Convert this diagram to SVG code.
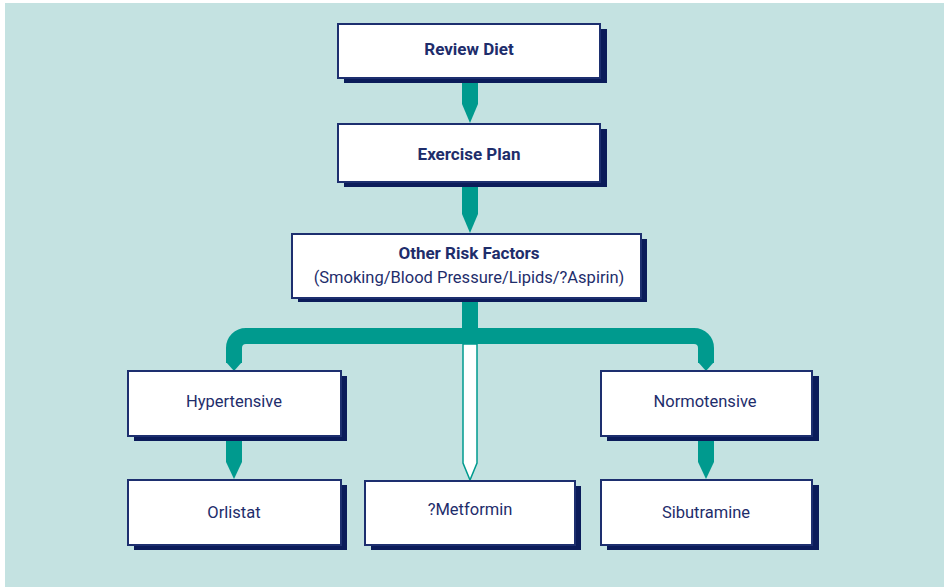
<svg xmlns="http://www.w3.org/2000/svg" width="944" height="587" viewBox="0 0 944 587">
<defs>
<style>
.bg{fill:#c4e2e1}
.shadow{fill:#0b1c5a}
.box{fill:#ffffff;stroke:#1d2f6f;stroke-width:2}
.t{font-family:Roboto,"Liberation Sans",sans-serif;font-size:16.5px;fill:#1e2d6b;text-anchor:middle}
.b{font-weight:bold;font-size:17px}
.arrow{fill:#009a8e}
.bus{fill:none;stroke:#009a8e;stroke-width:16}
.open{fill:#ffffff;stroke:#009a8e;stroke-width:1.5}
</style>
</defs>
<rect class="bg" x="5" y="3" width="939" height="584"/>
<g id="connectors">
<polygon class="arrow" points="462,76 478,76 478,104 470,123 462,104"/>
<polygon class="arrow" points="462,180 478,180 478,214 470,233 462,214"/>
<rect class="arrow" x="462" y="296" width="16" height="42"/>
<path class="bus" d="M234 363 L234 348 A12 12 0 0 1 246 336 L694 336 A12 12 0 0 1 706 348 L706 363"/>
<polygon class="arrow" points="226,362 242,362 234,371"/>
<polygon class="arrow" points="698,362 714,362 706,371"/>
<polygon class="open" points="463,344 477,344 477,463 470,480 463,463"/>
<polygon class="arrow" points="226,434 242,434 242,462 234,479 226,462"/>
<polygon class="arrow" points="698,434 714,434 714,462 706,479 698,462"/>
</g>
<g id="review-diet">
<rect class="shadow" x="344" y="29" width="263" height="54"/>
<rect class="box" x="338" y="24" width="262" height="54"/>
<text class="t b" x="469" y="55">Review Diet</text>
</g>
<g id="exercise-plan">
<rect class="shadow" x="344" y="129" width="263" height="58"/>
<rect class="box" x="338" y="124" width="262" height="58"/>
<text class="t b" x="469" y="160">Exercise Plan</text>
</g>
<g id="other-risk-factors">
<rect class="shadow" x="298" y="239" width="349" height="63"/>
<rect class="box" x="292" y="234" width="349" height="64"/>
<text class="t b" x="469" y="259">Other Risk Factors</text>
<text class="t" x="469" y="283">(Smoking/Blood Pressure/Lipids/?Aspirin)</text>
</g>
<g id="hypertensive">
<rect class="shadow" x="134" y="376" width="213" height="65"/>
<rect class="box" x="128" y="371" width="213" height="65"/>
<text class="t" x="234" y="407">Hypertensive</text>
</g>
<g id="normotensive">
<rect class="shadow" x="607" y="376" width="212" height="65"/>
<rect class="box" x="601" y="371" width="211" height="65"/>
<text class="t" x="705" y="407">Normotensive</text>
</g>
<g id="orlistat">
<rect class="shadow" x="134" y="485" width="213" height="65"/>
<rect class="box" x="128" y="480" width="213" height="65"/>
<text class="t" x="234" y="518">Orlistat</text>
</g>
<g id="metformin">
<rect class="shadow" x="371" y="486" width="210" height="64"/>
<rect class="box" x="365" y="481" width="210" height="64"/>
<text class="t" x="470" y="515">?Metformin</text>
</g>
<g id="sibutramine">
<rect class="shadow" x="607" y="485" width="212" height="65"/>
<rect class="box" x="601" y="480" width="211" height="65"/>
<text class="t" x="706" y="518">Sibutramine</text>
</g>
</svg>
